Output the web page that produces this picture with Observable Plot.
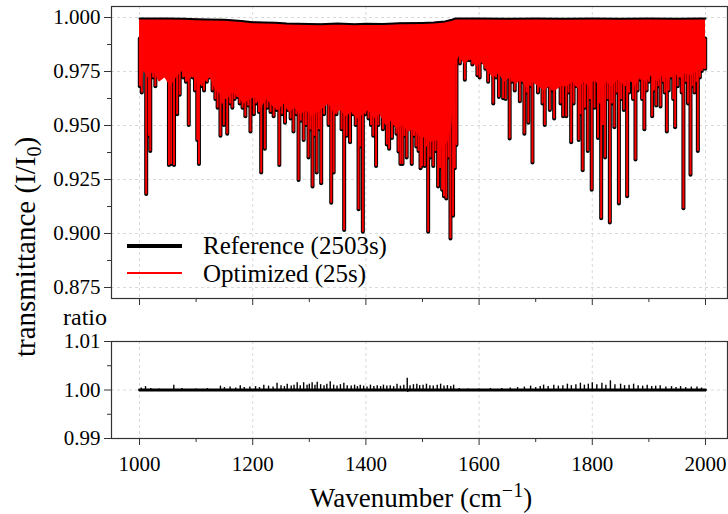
<!DOCTYPE html>
<html><head><meta charset="utf-8">
<script src="https://cdn.jsdelivr.net/npm/d3@7"></script>
<script src="https://cdn.jsdelivr.net/npm/@observablehq/plot@0.6"></script>
<style>
body{margin:0;background:#fff;}
#wrap{position:relative;width:728px;height:514px;overflow:hidden;font-family:"Liberation Serif",serif;background:#fff;}
#wrap svg, #wrap svg text{font-family:"Liberation Serif",serif !important;}
#top{position:absolute;left:0;top:0;}
#bot{position:absolute;left:0;top:330px;}
.lab{position:absolute;white-space:nowrap;color:#000;line-height:1;font-family:"Liberation Serif",serif;}
</style></head><body>
<div id="wrap">
<div id="top"></div><div id="bot"></div>
<div class="lab" style="font-size:29px;left:27px;top:247px;transform:translate(-50%,-50%) rotate(-90deg);">transmittance (I/I<sub style="font-size:20px;vertical-align:-6px;">0</sub>)</div>
<div class="lab" style="font-size:24px;left:63px;top:305px;">ratio</div>
<div class="lab" style="font-size:27px;left:421px;top:480px;transform:translateX(-50%);">Wavenumber (cm<sup style="font-size:20px;vertical-align:10px;">−1</sup>)</div>
<div style="position:absolute;left:127px;top:244px;width:55px;height:4px;background:#000;"></div>
<div style="position:absolute;left:127px;top:272px;width:55px;height:1.5px;background:red;"></div>
<div class="lab" style="font-size:25px;left:203px;top:233px;">Reference (2503s)</div>
<div class="lab" style="font-size:25px;left:203px;top:261px;">Optimized (25s)</div>
</div>
<script>
// ---- data ----
const xMajor = [1000, 1200, 1400, 1600, 1800, 2000];
const xMinor = [1100, 1300, 1500, 1700, 1900];
const yMajorTop = [0.875, 0.900, 0.925, 0.950, 0.975, 1.000];
const yMinorTop = [0.8875, 0.9125, 0.9375, 0.9625, 0.9875];
const yMajorBot = [0.99, 1.00, 1.01];
const yMinorBot = [0.995, 1.005];

// upper envelope of the spectrum
const topWn  = [1000, 1050, 1080, 1100, 1120, 1150, 1180, 1200, 1240, 1260, 1300, 1320, 1350, 1380, 1400, 1430, 1460, 1500, 1520, 1540, 1552, 1558, 1600, 1650, 1700, 1750, 1800, 1850, 1900, 1950, 1990, 2000];
const topVal = [0.9995, 0.9995, 0.9994, 0.9992, 0.9991, 0.9990, 0.9984, 0.9978, 0.9976, 0.9972, 0.9970, 0.9969, 0.9972, 0.9969, 0.9971, 0.9970, 0.9973, 0.9975, 0.9977, 0.9982, 0.9990, 0.9995, 0.9995, 0.9994, 0.9995, 0.9994, 0.9995, 0.9994, 0.9995, 0.9994, 0.9996, 0.9995];

// lower edge of the dense band of weak lines
const bandWn  = [1000,1004,1008,1015,1025,1035,1045,1055,1065,1075,1085,1095,1105,1115,1125,1135,1145,1155,1165,1175,1185,1195,1205,1215,1225,1235,1245,1255,1265,1275,1285,1295,1305,1315,1325,1335,1345,1355,1365,1375,1385,1395,1405,1415,1425,1435,1445,1455,1465,1475,1485,1495,1505,1515,1525,1535,1545,1552,1558,1565,1575,1585,1595,1605,1615,1625,1635,1645,1655,1665,1675,1685,1695,1705,1715,1725,1735,1745,1755,1765,1775,1785,1795,1805,1815,1825,1835,1845,1855,1865,1875,1885,1895,1905,1915,1925,1935,1945,1955,1965,1975,1985,1995,2000];
const bandLow = [0.969,0.969,0.975,0.972,0.975,0.970,0.972,0.968,0.972,0.975,0.970,0.973,0.968,0.970,0.972,0.966,0.964,0.962,0.965,0.963,0.960,0.962,0.963,0.958,0.962,0.959,0.957,0.960,0.956,0.958,0.955,0.957,0.954,0.956,0.958,0.960,0.955,0.957,0.954,0.956,0.953,0.955,0.957,0.953,0.955,0.950,0.952,0.948,0.950,0.947,0.948,0.945,0.944,0.942,0.943,0.940,0.942,0.950,0.978,0.982,0.978,0.981,0.977,0.979,0.975,0.972,0.974,0.970,0.972,0.969,0.971,0.967,0.970,0.968,0.966,0.968,0.966,0.968,0.968,0.970,0.967,0.970,0.968,0.971,0.967,0.970,0.968,0.971,0.969,0.972,0.968,0.972,0.970,0.973,0.970,0.973,0.971,0.974,0.972,0.974,0.973,0.975,0.976,0.976];

// individual absorption lines: position (cm-1) and minimum transmittance
const lineWn = [1000.5,1004,1011.8,1016.5,1019,1024,1028,1033,1038,1044,1052,1056,1061,1066.5,1071,1077,1082,1087,1094,1098,1102,1105,1110,1114,1119,1124,1129,1134,1138,1143,1146,1149,1152,1155,1160,1164,1168,1172.5,1177,1182,1187,1192,1196,1202,1206,1211,1215,1221.4,1226,1231.5,1237,1242,1247,
1252,1257,1262,1267,1272,1277,1281,1285,1290,1294,1298.6,1302,1305.7,1309,1313,1317,1321,1326,1330,1334,1338.7,1343,1348,1353,1357,1361.6,1366,1372,1377,1382,1387,1390,1394.6,1399,1404.6,1409,1413,1418,1422,1425,1430,1434,1437,1441,1446,1450,1454,1457.6,1461,1464.7,1468,1472,1476,1481,1485,1489,1493,1496.5,1499,
1504,1507,1510,1514,1519,1523,1527.6,1531,1534.7,1538,1542,1546,1549.4,1554,1557,1560,
1566,1570,1574.8,1579,1583.6,1588,1593,1597,1601,1606,1611,1616,1620,1625,1630,1635,1638,1642.5,1647,1650,1654,1658,1663,1667,1672,1676,1680,1684,1687,1691,1694.3,1699,1704,1709,1712,1716,1720,1725,1729,1732.6,1736,1740,1744,1748.5,
1754,1758,1762.7,1767,1771,1776,1779,1783,1787,1792,1796,1799,1804,1810,1813,1815.7,1819,1822.7,1827,1831,1835,1839,1843,1847,1851,1855.7,1858,1861.6,1865,1868.7,1872,1876.3,1880,1885,1888,1892,1896,1900,1905.8,1909,1913,1917,1920.5,1925,1928,1931.7,1935,1940,1943,1946.4,1951,1955,1958,1961,1965,1969,1973.5,1977,1980.6,1984,1986.5,1990,1993.5,1997,1999.5];
const lineDepth = [0.968,0.965,0.918,0.945,0.938,0.972,0.968,0.975,0.973,0.976,0.9315,0.932,0.9315,0.955,0.964,0.972,0.970,0.950,0.972,0.966,0.943,0.932,0.968,0.966,0.970,0.972,0.966,0.962,0.958,0.945,0.960,0.950,0.962,0.946,0.960,0.958,0.962,0.963,0.960,0.958,0.954,0.959,0.947,0.955,0.960,0.956,0.928,0.939,0.958,0.956,0.954,0.957,0.9315,
0.955,0.951,0.957,0.953,0.947,0.955,0.9245,0.952,0.943,0.950,0.935,0.948,0.9215,0.945,0.928,0.948,0.923,0.955,0.965,0.950,0.914,0.928,0.955,0.958,0.948,0.9014,0.945,0.942,0.955,0.950,0.911,0.940,0.9006,0.955,0.953,0.950,0.945,0.931,0.950,0.958,0.948,0.952,0.941,0.939,0.944,0.950,0.946,0.9377,0.932,0.932,0.945,0.935,0.948,0.932,0.945,0.940,0.938,0.930,0.931,
0.931,0.940,0.9006,0.935,0.931,0.938,0.9215,0.930,0.920,0.917,0.916,0.935,0.8975,0.908,0.930,0.9407,
0.9785,0.982,0.971,0.980,0.980,0.978,0.981,0.973,0.972,0.979,0.976,0.970,0.975,0.960,0.972,0.963,0.975,0.9624,0.962,0.972,0.9438,0.970,0.966,0.974,0.961,0.970,0.946,0.965,0.951,0.968,0.9326,0.972,0.965,0.970,0.960,0.950,0.968,0.957,0.966,0.953,0.968,0.972,0.960,0.954,
0.954,0.965,0.942,0.960,0.968,0.943,0.955,0.929,0.958,0.938,0.962,0.920,0.958,0.944,0.960,0.9068,0.950,0.935,0.962,0.9048,0.960,0.949,0.965,0.9137,0.962,0.957,0.968,0.917,0.965,0.970,0.962,0.934,0.966,0.971,0.962,0.948,0.966,0.970,0.954,0.966,0.959,0.968,0.9586,0.970,0.965,0.947,0.966,0.972,0.962,0.949,0.968,0.972,0.965,0.9114,0.970,0.960,0.927,0.968,0.965,0.970,0.938,0.972,0.975,0.978,0.976];

// ratio panel
const ratioBaseWn = [1000, 2000];
const ratioBaseVal = [1.0, 1.0];
const ratioWn = [1003,1010.6,1020,1035,1060.6,1075,1100,1120,1143,1150,1160,1170,1178,1185,1195,1205,1212,1219.6,1228,1236,1243,1250,1256,1261,1268,1273,1278.6,1284,1290,1296,1300,1305,1310,1314,1320,1326,1331,1337,1343,1349,1355,1361,1367,1374,1380,1385,1390,1396,1402,1408,1414,1420,1426,1431,1437,1443,1449,1455,1461,1467,1473,1478,1484,1490,1495,1501,1507,1513,1519,1526,1532,1538,1544,1550,1555,1565,1580,1600,1620,1640,1655,1668,1680,1691,1700,1708,1714,1722,1732,1740,1748,1756,1763,1771,1779,1786,1793,1800,1808,1817,1824,1832,1840,1850,1857,1865,1873,1881,1889,1897,1905,1912,1920,1930,1940,1948,1956,1965,1975,1985,1993,
1230,1300,1390,1474,1510,1530];
const ratioVal = [1.0004,1.0007,1.0003,1.0002,1.0010,1.0003,1.0002,1.0003,1.0008,1.0005,1.0006,1.0004,1.0009,1.0005,1.0006,1.0007,1.0005,1.0010,1.0008,1.0006,1.0014,1.0009,1.0007,1.0012,1.0008,1.0010,1.0015,1.0009,1.0015,1.0010,1.0012,1.0015,1.0010,1.0016,1.0011,1.0009,1.0012,1.0017,1.0010,1.0008,1.0011,1.0014,1.0009,1.0008,1.0010,1.0007,1.0010,1.0008,1.0006,1.0010,1.0007,1.0009,1.0007,1.0010,1.0008,1.0009,1.0007,1.0012,1.0008,1.0010,1.0024,1.0009,1.0011,1.0012,1.0009,1.0010,1.0012,1.0009,1.0008,1.0010,1.0012,1.0008,1.0009,1.0007,1.0010,1.0003,1.0002,1.0002,1.0003,1.0003,1.0004,1.0005,1.0006,1.0008,1.0005,1.0007,1.0010,1.0007,1.0010,1.0008,1.0009,1.0012,1.0009,1.0011,1.0014,1.0010,1.0012,1.0015,1.0011,1.0014,1.0010,1.0019,1.0011,1.0012,1.0009,1.0010,1.0012,1.0009,1.0008,1.0010,1.0007,1.0008,1.0009,1.0006,1.0007,1.0005,1.0007,1.0005,1.0006,1.0006,1.0004,
0.9997,0.9997,0.9997,0.9995,0.9997,0.9997];

// ---- build tables ----
const topEnv = topWn.map((w, i) => ({wn: w, top: topVal[i]}));
const band = bandWn.map((w, i) => ({wn: w, low: bandLow[i]}));
const lines = lineWn.map((w, i) => ({wn: w, t: lineDepth[i]}));
const ratioBase = ratioBaseWn.map((w, i) => ({wn: w, r: ratioBaseVal[i]}));
const ratio = ratioWn.map((w, i) => ({wn: w, r: ratioVal[i]}));

const xDomain = [950.5, 2038.9];
const FONT = '"Liberation Serif", serif';
const AX = "#333";
const GRID = {stroke: "#cfcfcf", strokeOpacity: 1, strokeDasharray: "3,3", strokeWidth: 0.8};

const topPlot = Plot.plot({
  width: 728, height: 310,
  marginLeft: 111, marginRight: 1, marginTop: 6, marginBottom: 12,
  x: {domain: xDomain, axis: null, label: null},
  y: {domain: [0.8699, 1.0051], axis: null, label: null},
  style: {fontFamily: FONT, fontSize: "21px", color: "#000", background: "#fff", overflow: "visible"},
  marks: [
    Plot.gridX(xMajor, GRID),
    Plot.gridY(yMajorTop, GRID),
    Plot.ruleX(lines, {x: "wn", y1: "t", y2: 0.99, stroke: "#000", strokeWidth: 4, strokeLinecap: "round"}),
    Plot.areaY(band, {x: "wn", y1: "low", y2: 0.995, fill: "red"}),
    Plot.areaY(topEnv, {x: "wn", y1: 0.994, y2: "top", fill: "red"}),
    Plot.line(topEnv, {x: "wn", y: "top", stroke: "#000", strokeWidth: 2}),
    Plot.ruleX(lines, {x: "wn", y1: "t", y2: 0.99, stroke: "red", strokeWidth: 2}),
    Plot.frame({stroke: AX, strokeWidth: 1.2}),
    Plot.axisY(yMajorTop, {anchor: "left", tickSize: 7, tickPadding: 4, stroke: AX, tickFormat: d => d.toFixed(3), label: null}),
    Plot.axisY(yMinorTop, {anchor: "left", tickSize: 4, stroke: AX, tickFormat: () => "", label: null}),
    Plot.axisX(xMajor, {anchor: "bottom", tickSize: 7, stroke: AX, tickFormat: () => "", label: null}),
    Plot.axisX(xMinor, {anchor: "bottom", tickSize: 4, stroke: AX, tickFormat: () => "", label: null})
  ]
});
document.getElementById("top").appendChild(topPlot);

const botPlot = Plot.plot({
  width: 728, height: 184,
  marginLeft: 111, marginRight: 1, marginTop: 11, marginBottom: 76,
  x: {domain: xDomain, axis: null, label: null},
  y: {domain: [0.99, 1.01], axis: null, label: null},
  style: {fontFamily: FONT, fontSize: "21px", color: "#000", background: "#fff", overflow: "visible"},
  marks: [
    Plot.gridX(xMajor, GRID),
    Plot.gridY([1.00], GRID),
    Plot.ruleX(ratio, {x: "wn", y1: 1, y2: "r", stroke: "#000", strokeWidth: 1.4}),
    Plot.line(ratioBase, {x: "wn", y: "r", stroke: "#000", strokeWidth: 2.8}),
    Plot.frame({stroke: AX, strokeWidth: 1.2}),
    Plot.axisY(yMajorBot, {anchor: "left", tickSize: 7, tickPadding: 4, stroke: AX, tickFormat: d => d.toFixed(2), label: null}),
    Plot.axisY(yMinorBot, {anchor: "left", tickSize: 4, stroke: AX, tickFormat: () => "", label: null}),
    Plot.axisX(xMajor, {anchor: "bottom", tickSize: 7, tickPadding: 11, stroke: AX, tickFormat: d => String(d), label: null}),
    Plot.axisX(xMinor, {anchor: "bottom", tickSize: 4, stroke: AX, tickFormat: () => "", label: null})
  ]
});
document.getElementById("bot").appendChild(botPlot);
</script>
</body></html>
